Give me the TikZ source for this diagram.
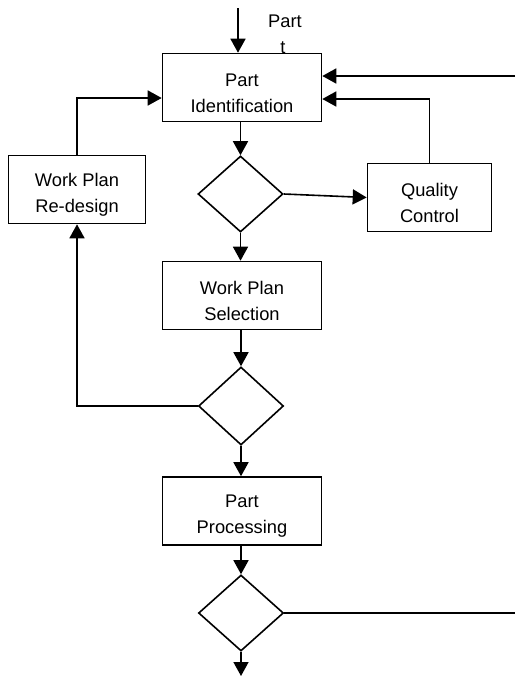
\documentclass[tikz,border=0pt]{standalone}
\usepackage{fontspec}
\setmainfont{Liberation Sans}
\usetikzlibrary{shapes.geometric,arrows.meta}
\begin{document}
\begin{tikzpicture}[x=1pt,y=-1pt,
  line width=1.6pt,
  box/.style={draw, rectangle, minimum width=159pt, minimum height=68pt, inner sep=0pt},
  smallbox/.style={box, minimum width=137pt},
  qbox/.style={box, minimum width=124pt},
  dec/.style={draw, diamond, minimum width=85pt, minimum height=76pt, inner sep=0pt},
  txt/.style={font=\fontsize{18.3}{26}\selectfont, align=center, yshift=-5.5pt},
  lbl/.style={font=\fontsize{18.3}{26}\selectfont, inner sep=0pt, anchor=base},
  arr/.style={-{Triangle[width=15pt,length=14pt]}}]
\useasboundingbox (0,0) rectangle (515,686);

\node[box, label={[txt]center:Part\\Identification}] (pid) at (242,87.5) {};
\node[smallbox, label={[txt]center:Work Plan\\Re-design}] (red) at (77,189.5) {};
\node[dec] (d1) at (240.5,194) {};
\node[qbox, label={[txt]center:Quality\\Control}] (qc) at (429.5,197.5) {};
\node[box, label={[txt]center:Work Plan\\Selection}] (wps) at (242,295.5) {};
\node[dec, minimum height=78pt] (d2) at (241,406) {};
\node[box, label={[txt]center:Part\\Processing}] (pp) at (242,511) {};
\node[dec] (d3) at (241,613) {};

\node[lbl] (lp) at (285,27) {Part};
\node[lbl] (lt) at (283,53) {t};

\coordinate (in) at (238,8);
\coordinate (r1) at (515,76);
\coordinate (r2) at (515,613);
\coordinate (out) at (241,676);

\draw[arr] (in) -- (in |- pid.north);
\draw[arr] (r1) -- (r1 -| pid.east);
\draw[arr] (qc.north) |- ([yshift=-11.5pt]pid.east);
\draw[arr] (red.north) |- ([yshift=-10.5pt]pid.west);
\draw[arr] (d1.north |- pid.south) -- (d1.north);
\draw[arr] (d1.east) -- (qc.west);
\draw[arr] (d1.south) -- (d1.south |- wps.north);
\draw[arr] (d2.north |- wps.south) -- (d2.north);
\draw[arr] (d2.west) -| (red.south);
\draw[arr] (d2.south) -- (d2.south |- pp.north);
\draw[arr] (d3.north |- pp.south) -- (d3.north);
\draw (d3.east) -- (r2);
\draw[arr] (d3.south) -- (out);
\end{tikzpicture}
\end{document}
